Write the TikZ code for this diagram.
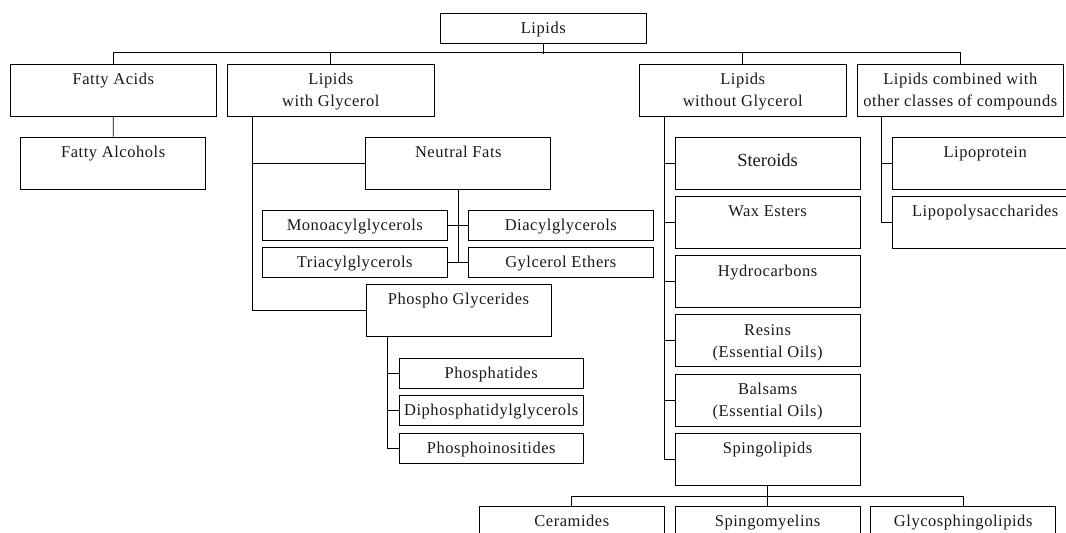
\documentclass[tikz,border=0pt]{standalone}
\usepackage{fontspec}
\setmainfont{Liberation Serif}[LetterSpace=3.3]
\newfontfamily\plainserif{Liberation Serif}
\begin{document}
\begin{tikzpicture}[x=1pt,y=-1pt,
  box/.style={draw=black,line width=0.9pt,inner sep=0pt,minimum width=185pt},
  bigbox/.style={box,minimum height=52pt},
  smallbox/.style={box,minimum height=30pt},
  wide/.style={minimum width=206.7pt},
  txt/.style={anchor=base,inner sep=0pt,font=\fontsize{16.5}{20}\selectfont,text=black!90},
  conn/.style={draw=black,line width=0.9pt}]
\useasboundingbox (0,0) rectangle (1066,533);
\fill[white] (0,0) rectangle (1066,533);
\clip (0,0) rectangle (1066,533);

% boxes
\node[smallbox,wide] (lipids) at (543.3,28.3) {};
\node[bigbox,wide,minimum height=51.7pt] (fa) at (113.3,90.2) {};
\node[bigbox,wide,minimum height=51.7pt] (lwg) at (330.8,90.2) {};
\node[bigbox,wide,minimum height=51.7pt] (lwog) at (742.7,90.2) {};
\node[bigbox,wide,minimum height=51.7pt,minimum width=206pt] (lcomb) at (960.3,90.2) {};
\node[bigbox] (falc) at (113.2,163) {};
\node[bigbox] (nf) at (458.3,163) {};
\node[smallbox,minimum width=184.3pt] (mono) at (354.8,225) {};
\node[smallbox,minimum width=184.3pt] (di) at (560.8,225) {};
\node[smallbox,minimum width=184.3pt] (tri) at (354.8,262) {};
\node[smallbox,minimum width=184.3pt] (ge) at (560.8,262) {};
\node[bigbox] (pg) at (458.5,310.7) {};
\node[smallbox,minimum width=184.5pt] (phd) at (491.2,373.3) {};
\node[smallbox,minimum width=184.5pt] (dpg) at (491.2,410.7) {};
\node[smallbox,minimum width=184.5pt] (pi) at (491.2,448) {};
\node[bigbox] (ster) at (767.6,163) {};
\node[bigbox] (wax) at (767.6,222.4) {};
\node[bigbox] (hc) at (767.6,281.8) {};
\node[bigbox] (res) at (767.6,340.8) {};
\node[bigbox] (bal) at (767.6,400) {};
\node[bigbox] (spl) at (767.6,459.2) {};
\node[bigbox] (lp) at (985.2,163) {};
\node[bigbox] (lps) at (985.2,222.4) {};
\node[bigbox] (cer) at (571.8,532) {};
\node[bigbox] (spm) at (767.6,532) {};
\node[bigbox] (gsl) at (963.2,532) {};

% texts
\node[txt] at ([yshift=-20.7pt]lipids.north) {Lipids};
\node[txt] at ([yshift=-20.7pt]fa.north) {Fatty Acids};
\node[txt] at ([yshift=-20.7pt]lwg.north) {Lipids};
\node[txt] at ([yshift=-43pt]lwg.north) {with Glycerol};
\node[txt] at ([yshift=-20.7pt]lwog.north) {Lipids};
\node[txt] at ([yshift=-43pt]lwog.north) {without Glycerol};
\node[txt] at ([yshift=-20.7pt]lcomb.north) {Lipids combined with};
\node[txt] at ([yshift=-43pt]lcomb.north) {other classes of compounds};
\node[txt] at ([yshift=-20.7pt]falc.north) {Fatty Alcohols};
\node[txt] at ([yshift=-20.7pt]nf.north) {Neutral Fats};
\node[txt] at ([yshift=-20.7pt]mono.north) {Monoacylglycerols};
\node[txt] at ([yshift=-20.7pt]di.north) {Diacylglycerols};
\node[txt] at ([yshift=-20.7pt]tri.north) {Triacylglycerols};
\node[txt] at ([yshift=-20.7pt]ge.north) {Gylcerol Ethers};
\node[txt] at ([yshift=-20.7pt]pg.north) {Phospho Glycerides};
\node[txt] at ([yshift=-20.7pt]phd.north) {Phosphatides};
\node[txt] at ([yshift=-20.7pt]dpg.north) {Diphosphatidylglycerols};
\node[txt] at ([yshift=-20.7pt]pi.north) {Phosphoinositides};
\node[txt,font=\plainserif\fontsize{18.5}{22}\selectfont] at ([yshift=-3pt]ster.center) {Steroids};
\node[txt] at ([yshift=-20.7pt]wax.north) {Wax Esters};
\node[txt] at ([yshift=-20.7pt]hc.north) {Hydrocarbons};
\node[txt] at ([yshift=-20.7pt]res.north) {Resins};
\node[txt] at ([yshift=-43pt]res.north) {(Essential Oils)};
\node[txt] at ([yshift=-20.7pt]bal.north) {Balsams};
\node[txt] at ([yshift=-43pt]bal.north) {(Essential Oils)};
\node[txt] at ([yshift=-20.7pt]spl.north) {Spingolipids};
\node[txt] at ([yshift=-20.7pt]lp.north) {Lipoprotein};
\node[txt] at ([yshift=-20.7pt]lps.north) {Lipopolysaccharides};
\node[txt] at ([yshift=-20.7pt]cer.north) {Ceramides};
\node[txt] at ([yshift=-20.7pt]spm.north) {Spingomyelins};
\node[txt] at ([yshift=-20.7pt]gsl.north) {Glycosphingolipids};

% connectors
\draw[conn] (lipids.south) -- ++(0,10);
\draw[conn] (fa.north) -- ++(0,-11) -| (lcomb.north);
\draw[conn] (lwg.north) -- ++(0,-11);
\draw[conn] (lwog.north) -- ++(0,-11);
\draw[conn] (fa.south) -- (falc.north);
\draw[conn] ([xshift=25.4pt]lwg.south west) |- (pg.west);
\draw[conn] (nf.west) -- ++(-113.3,0);
\draw[conn] (nf.south) -- (nf.south |- tri.east);
\draw[conn] (mono.east) -- (di.west);
\draw[conn] (tri.east) -- (ge.west);
\draw[conn] ([xshift=22.3pt]pg.south west) |- (pi.west);
\draw[conn] (phd.west) -- ++(-10.7,0);
\draw[conn] (dpg.west) -- ++(-10.7,0);
\draw[conn] ([xshift=25.2pt]lwog.south west) |- (spl.west);
\draw[conn] (ster.west) -- ++(-10.8,0);
\draw[conn] (wax.west) -- ++(-10.8,0);
\draw[conn] (hc.west) -- ++(-10.8,0);
\draw[conn] (res.west) -- ++(-10.8,0);
\draw[conn] (bal.west) -- ++(-10.8,0);
\draw[conn] ([xshift=25pt]lcomb.south west) |- (lps.west);
\draw[conn] (lp.west) -- ++(-10.4,0);
\draw[conn] (spl.south) -- (spm.north);
\draw[conn] (cer.north) -- ++(0,-9.3) -| (gsl.north);
\end{tikzpicture}
\end{document}
